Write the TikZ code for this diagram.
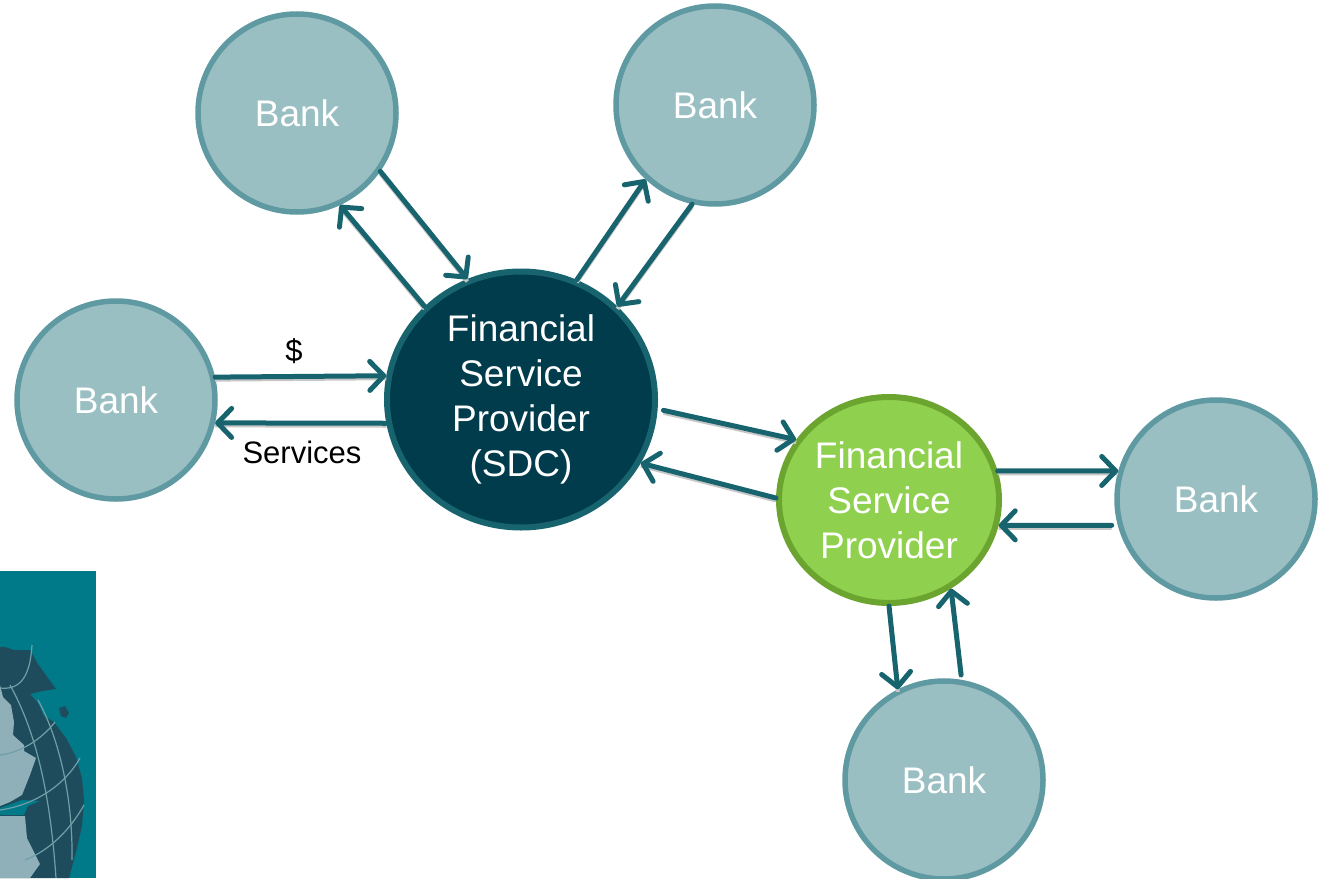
\documentclass[tikz,border=0pt]{standalone}
\usepackage{fontspec}
\setmainfont{Liberation Sans}
\usetikzlibrary{arrows.meta,shapes.geometric}
\definecolor{bankfill}{HTML}{9ABFC3}
\definecolor{bankline}{HTML}{5F9AA2}
\definecolor{sdcfill}{HTML}{003C4B}
\definecolor{arrowc}{HTML}{17646F}
\definecolor{greenfill}{HTML}{8FD14F}
\definecolor{greenline}{HTML}{6BA52F}
\definecolor{seac}{HTML}{007A88}
\definecolor{darkland}{HTML}{1E4C5C}
\definecolor{lightland}{HTML}{8FB0B8}
\definecolor{gridc}{HTML}{6FA0A8}
\tikzset{
  bank/.style={ellipse,draw=bankline,fill=bankfill,line width=5.5pt,minimum width=198pt,minimum height=198pt,inner sep=0pt,outer sep=2.75pt,text=white,font=\fontsize{37}{45}\selectfont},
  sdc/.style={ellipse,draw=arrowc,fill=sdcfill,line width=6pt,minimum width=268pt,minimum height=256pt,inner sep=0pt,outer sep=3pt,text=white,align=center,font=\fontsize{37}{45}\selectfont},
  fsp/.style={ellipse,draw=greenline,fill=greenfill,line width=6pt,minimum width=220pt,minimum height=206pt,inner sep=0pt,outer sep=3pt,text=white,align=center,font=\fontsize{37}{45}\selectfont},
  lab/.style={text=black,inner sep=0pt,font=\fontsize{31}{36}\selectfont},
  flow/.style={draw=arrowc,line width=5pt,line cap=round,
    -{Straight Barb[length=14pt,width=29pt,line width=5pt,round]},
    preaction={draw=black!22,line width=4pt,transform canvas={yshift=-2.5pt},-}},
  gridline/.style={draw=gridc,line width=1.2pt}
}
\begin{document}
\begin{tikzpicture}[x=1pt,y=-1pt]
\useasboundingbox (0,0) rectangle (1324,878);
% globe picture
\begin{scope}
  \clip (0,571) rectangle (96,878);
  \fill[seac] (0,571) rectangle (96,878);
  \fill[darkland] (0,647) -- (5,647) -- (14,650) -- (30,650) -- (38,664) -- (48,678) -- (56,689) -- (42,691) -- (30,694) -- (38,703) -- (44,716) -- (54,722) -- (66,738) -- (76,757) -- (82,778) -- (84,800) -- (82,826) -- (76,852) -- (69,878) -- (0,878) -- cycle;
  \fill[darkland] (59,708) -- (65,706) -- (69,713) -- (66,718) -- (61,716) -- cycle;
  \fill[lightland] (0,685) -- (3,697) -- (11,705) -- (14,722) -- (13,735) -- (24,745) -- (24,751) -- (36,758) -- (30,775) -- (22,795) -- (10,802) -- (0,806) -- cycle;
  \fill[lightland] (0,816) -- (25,816) -- (27,838) -- (40,864) -- (30,878) -- (0,878) -- cycle;
  \fill[seac] (0,808) -- (22,800) -- (40,801) -- (28,806) -- (24,815) -- (0,815) -- cycle;
  \draw[gridline] (0,688) .. controls (18,690) and (30,680) .. (32,645);
  \draw[gridline] (0,755) .. controls (25,752) and (45,735) .. (55,722);
  \draw[gridline] (0,810) .. controls (35,805) and (65,785) .. (80,758);
  \draw[gridline] (25,860) .. controls (50,850) and (70,830) .. (84,805);
  \draw[gridline] (10,685) .. controls (35,730) and (50,790) .. (56,878);
  \draw[gridline] (38,700) .. controls (60,740) and (73,800) .. (72,860);
\end{scope}
% nodes
\node[bank] (b1) at (297,113) {Bank};
\node[bank] (b2) at (715,105) {Bank};
\node[bank] (b3) at (116,400) {Bank};
\node[sdc] (s) at (521,399.5) {Financial\\Service\\Provider\\(SDC)};
\node[fsp] (g) at (889,500) {Financial\\Service\\Provider};
\node[bank] (b4) at (1216,499) {Bank};
\node[bank] (b5) at (944,780) {Bank};
\node[lab] (dollar) at (294,351) {\$};
\node[lab] (serv) at (302,452) {Services};
% connectors
\draw[flow] (b1.-35.7) -- (s.114.6);
\draw[flow] (s.136) -- (b1.-65.2);
\draw[flow] (s.65.2) -- (b2.-133.5);
\draw[flow] (b2.-103.8) -- (s.44.2);
\draw[flow] (b3.13.4) -- (s.170.3);
\draw[flow] (s.190) -- (b3.-13.4);
\draw[flow,shorten <=6pt] (s.-4) -- (g.147.4);
\draw[flow] (g.179) -- (s.-28.6);
\draw[flow] (g.15.1) -- (b4.164.3);
\draw[flow,shorten <=6pt] (b4.-165.7) -- (g.-13.2);
\draw[flow] (g.-90.5) -- (b5.117);
\draw[flow,shorten <=5pt] (b5.80.3) -- (g.-55.7);
\end{tikzpicture}
\end{document}
